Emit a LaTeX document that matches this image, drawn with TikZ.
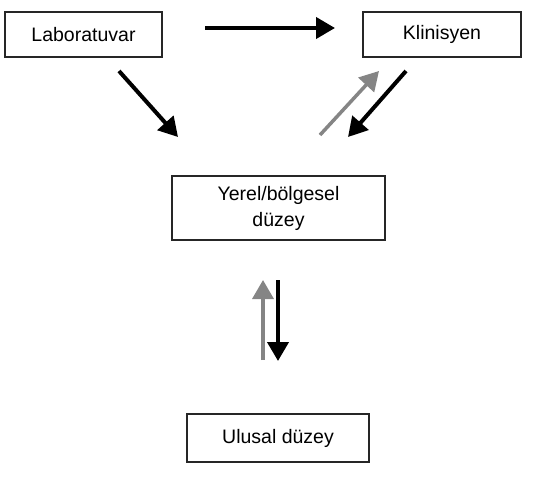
\documentclass[tikz,border=0pt]{standalone}
\usepackage{fontspec}
\setmainfont{Liberation Sans}
\usetikzlibrary{arrows.meta}
\begin{document}
\begin{tikzpicture}[x=1pt,y=-1pt,
  box/.style={draw=black!85,line width=1.2pt,inner sep=0pt,align=center,
    font=\fontsize{19.5}{26}\selectfont},
  blk/.style={line width=4pt,black,-{Triangle[length=19pt,width=21pt]}},
  gry/.style={line width=3.5pt,black!48,-{Triangle[length=19pt,width=21pt]}}]
\useasboundingbox (0,0) rectangle (553,481);
\node[box,minimum width=157pt,minimum height=45pt] (lab) at (83.5,34.5) {Laboratuvar};
\node[box,minimum width=158pt,minimum height=45pt] (kli) at (442,34.5) {Klinisyen};
\node[box,minimum width=213pt,minimum height=64pt] (yer) at (278.5,208) {Yerel/bölgesel\\düzey};
\node[box,minimum width=182pt,minimum height=48pt] (ulu) at (278,438) {Ulusal düzey};
\coordinate (a1) at (205,28); \coordinate (a2) at (335,28);
\coordinate (b1) at (119,71); \coordinate (b2) at (178,137);
\coordinate (c1) at (320,135); \coordinate (c2) at (379,71);
\coordinate (d1) at (406,71); \coordinate (d2) at (348,137);
\coordinate (e1) at (263,360); \coordinate (e2) at (263,280);
\coordinate (f1) at (278,280); \coordinate (f2) at (278,361);
\draw[blk] (a1) -- (a2);
\draw[blk] (b1) -- (b2);
\draw[gry] (c1) -- (c2);
\draw[blk] (d1) -- (d2);
\draw[gry] (e1) -- (e2);
\draw[blk] (f1) -- (f2);
\end{tikzpicture}
\end{document}
